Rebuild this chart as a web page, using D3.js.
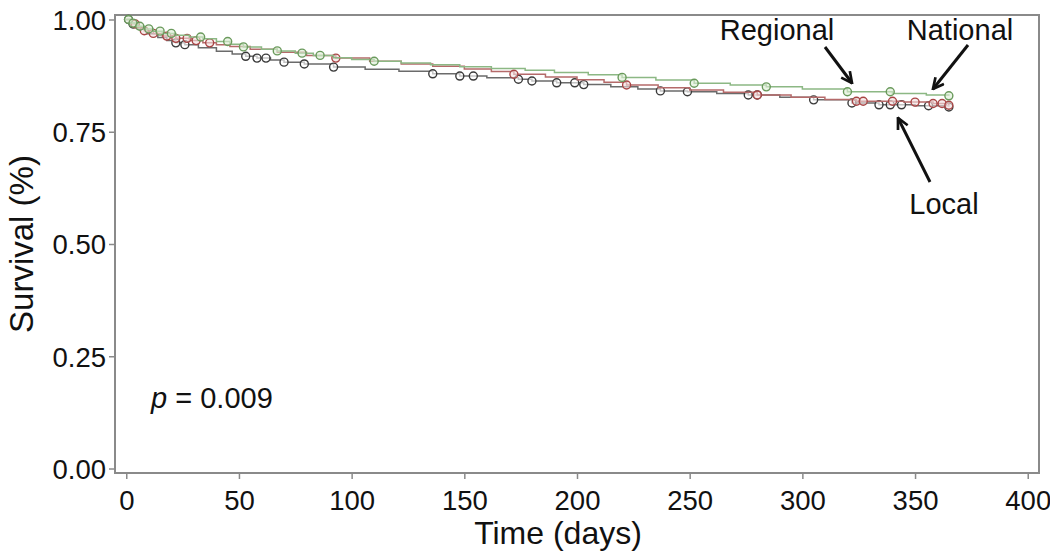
<!DOCTYPE html>
<html><head><meta charset="utf-8">
<script src="https://cdn.jsdelivr.net/npm/d3@7"></script>
<style>body{margin:0;background:#fff}svg{display:block}text{font-family:"Liberation Sans",Arial,sans-serif}</style>
</head><body><svg id="c" width="1050" height="554"></svg>
<script>
const xTicks = [0,50,100,150,200,250,300,350,400];
const yTicks = [0,0.25,0.5,0.75,1.0];
const yTickLabels = ["0.00","0.25","0.50","0.75","1.00"];
const seriesNames = ["National","Regional","Local"];

const greenCurve = [[0,1.0],[2,0.992],[5,0.985],[8,0.979],[12,0.974],[16,0.969],[22,0.965],[28,0.961],[34,0.957],[40,0.951],[46,0.945],[52,0.939],[60,0.934],[67,0.930],[75,0.925],[83,0.920],[92,0.915],[100,0.911],[110,0.907],[122,0.903],[135,0.899],[148,0.895],[162,0.891],[177,0.887],[190,0.882],[205,0.877],[220,0.871],[235,0.865],[252,0.858],[268,0.854],[284,0.850],[300,0.845],[320,0.839],[340,0.835],[355,0.832],[365,0.830]];
const redCurve = [[0,1.0],[2,0.99],[5,0.982],[8,0.975],[12,0.969],[16,0.963],[22,0.958],[28,0.953],[34,0.948],[40,0.944],[46,0.940],[55,0.934],[67,0.927],[80,0.920],[93,0.914],[108,0.907],[122,0.901],[136,0.896],[150,0.890],[162,0.884],[172,0.878],[186,0.872],[200,0.866],[212,0.860],[222,0.854],[236,0.848],[250,0.843],[265,0.838],[280,0.832],[295,0.827],[310,0.822],[324,0.818],[345,0.816],[358,0.813],[365,0.809]];
const blackCurve = [[0,1.0],[2,0.99],[5,0.978],[9,0.968],[14,0.96],[18,0.953],[22,0.948],[26,0.944],[32,0.937],[40,0.929],[47,0.923],[53,0.918],[58,0.914],[64,0.910],[70,0.905],[79,0.901],[92,0.894],[106,0.889],[121,0.885],[136,0.879],[148,0.874],[160,0.870],[174,0.867],[180,0.863],[191,0.859],[203,0.855],[215,0.850],[227,0.845],[237,0.841],[249,0.839],[262,0.835],[276,0.832],[290,0.827],[305,0.821],[322,0.814],[334,0.810],[350,0.808],[365,0.805]];

const greenCensor = [1,3,6,10,15,20,33,45,52,67,78,86,110,220,252,284,320,339,365];
const redCensor = [4,8,12,18,22,27,31,37,93,172,222,280,324,327,340,350,358,362,365];
const blackCensor = [1,3,22,26,53,58,62,70,79,92,136,148,154,174,180,191,199,203,237,249,276,280,305,322,334,339,344,356,365];

const svg = d3.select("#c");
const L=115,R=1039,T=15,B=473;
const x = d3.scaleLinear().domain([-5,405]).range([L,R]);
const y = d3.scaleLinear().domain([-0.01,1.01]).range([B,T]);

svg.append("rect").attr("x",L).attr("y",T).attr("width",R-L).attr("height",B-T)
  .attr("fill","none").attr("stroke","#8a8a8a").attr("stroke-width",2);

const xa = svg.append("g").attr("transform",`translate(0,${B})`)
  .call(d3.axisBottom(x).tickValues(xTicks).tickSize(6).tickPadding(6).tickFormat(d3.format("d")));
const ya = svg.append("g").attr("transform",`translate(${L},0)`)
  .call(d3.axisLeft(y).tickValues(yTicks).tickSize(6).tickPadding(3).tickFormat((d,i)=>yTickLabels[i]));
[xa,ya].forEach(g=>{
  g.select(".domain").remove();
  g.selectAll("line").attr("stroke","#8a8a8a").attr("stroke-width",1.5);
  g.selectAll("text").attr("font-size",27.5).attr("fill","#111").attr("font-family","Liberation Sans, Arial, sans-serif");
});
xa.selectAll("text").attr("dy","0.9em");
ya.selectAll("text").attr("dy","0.36em");

svg.append("text").attr("x",558).attr("y",544).attr("text-anchor","middle")
  .attr("font-size",32).attr("fill","#111").text("Time (days)");
svg.append("text").attr("transform",`translate(33,${244}) rotate(-90)`).attr("text-anchor","middle")
  .attr("font-size",33).attr("fill","#111").text("Survival (%)");

const line = d3.line().x(d=>x(d[0])).y(d=>y(d[1])).curve(d3.curveStepAfter);
function lookup(curve,t){let v=curve[0][1];for(const p of curve){if(p[0]<=t)v=p[1];}return v;}

const series = [
  {curve:blackCurve,censor:blackCensor,line:"#6b6b6b",stroke:"#3a3a3a",fill:"#ffffff"},
  {curve:redCurve,censor:redCensor,line:"#b56a6a",stroke:"#a84545",fill:"#f2dede"},
  {curve:greenCurve,censor:greenCensor,line:"#8cb884",stroke:"#6a9a5c",fill:"#dcecd4"}
];
series.forEach(s=>{
  svg.append("path").datum(s.curve).attr("d",line).attr("fill","none")
    .attr("stroke",s.line).attr("stroke-width",1.5);
  svg.append("g").selectAll("circle").data(s.censor).join("circle")
    .attr("cx",d=>x(d)).attr("cy",d=>y(lookup(s.curve,d))).attr("r",4)
    .attr("fill",s.fill).attr("fill-opacity",0.6).attr("stroke",s.stroke).attr("stroke-width",1.4);
});

const pt = svg.append("text").attr("x",151).attr("y",408).attr("font-size",29).attr("fill","#111");
pt.append("tspan").attr("font-style","italic").text("p");
pt.append("tspan").text(" = 0.009");

svg.append("defs").append("marker").attr("id","ah").attr("viewBox","0 0 10 10")
  .attr("refX",9).attr("refY",5).attr("markerWidth",4.5).attr("markerHeight",4.5)
  .attr("orient","auto").append("path").attr("d","M1,1 L9,5 L1,9").attr("fill","none")
  .attr("stroke","#111").attr("stroke-width",2);
const ann = [
  {name:seriesNames[1],tx:777,ty:40,x1:825,y1:47,x2:852,y2:83},
  {name:seriesNames[0],tx:960,ty:40,x1:968,y1:45,x2:933,y2:89},
  {name:seriesNames[2],tx:944,ty:214,x1:930,y1:182,x2:898,y2:118}
];
ann.forEach(a=>{
  svg.append("text").attr("x",a.tx).attr("y",a.ty).attr("text-anchor","middle")
    .attr("font-size",29).attr("fill","#111").text(a.name);
  svg.append("line").attr("x1",a.x1).attr("y1",a.y1).attr("x2",a.x2).attr("y2",a.y2)
    .attr("stroke","#111").attr("stroke-width",3).attr("marker-end","url(#ah)");
});
</script></body></html>
